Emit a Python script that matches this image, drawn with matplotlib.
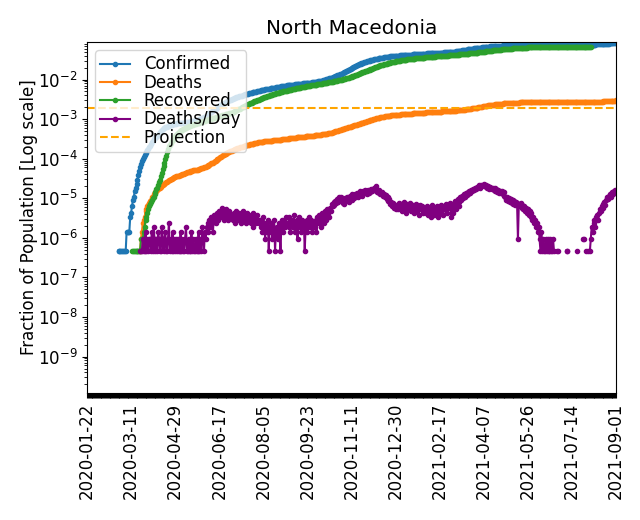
import numpy as np
import pandas as pd
import matplotlib
matplotlib.use("Agg")
import matplotlib.pyplot as plt

plt.rcParams['font.size'] = 12

country = "North Macedonia"
population = 2083380
first_day = '2020-01-22'
last_day = '2021-09-01'
projection = 1.9e-3

# daily new confirmed cases, starting 2020-02-26
confirmed_start = '2020-02-26'
confirmed_new = [
    1, 0, 0, 0,
    0, 0, 0, 0, 0, 2, 0, 0, 0, 4, 2, 4, 6, 4, 8, 7, 10, 14, 18, 20, 26, 28, 26, 30, 24, 26, 30, 25, 28, 27, 32,
    38, 45, 50, 55, 62, 40, 35, 30, 42, 48, 55, 80, 52, 48, 100, 38, 50, 35, 20, 10, 65, 28, 40, 20, 15, 22, 20, 25, 28, 12,
    8, 12, 9, 15, 6, 10, 14, 8, 11, 12, 20, 10, 16, 9, 13, 18, 12, 14, 20, 25, 30, 22, 35, 40, 28, 45, 38, 52, 60, 48, 55,
    70, 80, 95, 110, 125, 90, 105, 120, 135, 150, 125, 160, 140, 175, 150, 165, 180, 190, 135, 155, 170, 160, 150, 165, 130, 155, 145, 160, 125, 140,
    150, 130, 160, 140, 125, 155, 170, 145, 160, 130, 120, 150, 135, 140, 165, 125, 130, 145, 120, 135, 140, 125, 130, 150, 115, 120, 135, 110, 125, 140, 130,
    130, 140, 120, 135, 125, 150, 140, 110, 120, 135, 145, 130, 125, 140, 115, 120, 135, 130, 125, 140, 150, 120, 110, 135, 125, 130, 140, 115, 120, 135, 125,
    95, 110, 100, 85, 120, 105, 90, 110, 100, 95, 115, 105, 80, 90, 100, 110, 95, 105, 120, 90, 85, 100, 110, 95, 105, 115, 120, 100, 110, 125,
    140, 160, 150, 180, 200, 220, 240, 210, 260, 280, 250, 300, 320, 290, 350, 380, 360, 400, 420, 390, 450, 480, 500, 520, 490, 550, 580, 600, 620, 650, 680,
    700, 750, 820, 880, 950, 1000, 1050, 1100, 1080, 1150, 1200, 1180, 1250, 1220, 1300, 1150, 1280, 1260, 1200, 1240, 1150, 1100, 1180, 1120, 1050, 1100, 1000, 1050, 980, 950,
    900, 950, 880, 920, 850, 800, 870, 830, 780, 820, 760, 740, 700, 720, 680, 650, 700, 620, 600, 640, 580, 560, 600, 540, 500, 520, 480, 450, 500, 460, 480,
    420, 380, 400, 360, 390, 350, 370, 340, 380, 330, 360, 320, 350, 340, 310, 330, 360, 320, 300, 340, 310, 330, 350, 320, 300, 340, 360, 330, 350, 380, 360,
    280, 300, 260, 320, 290, 270, 310, 280, 300, 330, 290, 310, 320, 300, 280, 330, 350, 320, 340, 310, 360, 330, 350, 370, 340, 380, 360, 390,
    450, 500, 550, 600, 650, 700, 680, 750, 800, 850, 900, 880, 950, 1000, 980, 1050, 1100, 1080, 1150, 1100, 1050, 1120, 1000, 1080, 1050, 980, 1020, 950, 900, 980, 920,
    950, 900, 880, 850, 920, 880, 820, 800, 850, 780, 750, 800, 760, 720, 700, 740, 680, 650, 700, 620, 600, 650, 580, 560, 600, 540, 520, 480, 500, 450,
    300, 250, 280, 220, 200, 240, 180, 160, 190, 150, 140, 170, 130, 120, 110, 100, 90, 110, 80, 70, 90, 60, 50, 70, 55, 45, 60, 40, 35, 45, 30,
    25, 20, 18, 22, 15, 12, 16, 14, 10, 13, 12, 9, 11, 8, 10, 7, 12, 9, 6, 10, 8, 11, 7, 9, 12, 8, 10, 14, 11, 9,
    10, 12, 15, 11, 14, 18, 16, 20, 22, 25, 20, 28, 30, 35, 32, 40, 38, 45, 50, 42, 55, 60, 58, 65, 70, 62, 75, 80, 85, 90, 95,
    120, 150, 180, 200, 250, 280, 300, 320, 380, 400, 450, 480, 500, 550, 600, 620, 650, 700, 720, 750, 780, 800, 820, 850, 880, 900, 920, 950, 980, 1000, 1020,
    1050,
]

# daily deaths, starting 2020-03-21
deaths_start = '2020-03-21'
deaths_new = [
    1, 1, 1, 2, 1, 1, 3, 1, 2, 1, 2,
    2, 1, 3, 1, 4, 2, 1, 2, 1, 3, 2, 1, 1, 4, 2, 1, 2, 3, 1, 1, 2, 5, 1, 2, 1, 3, 1, 2, 1, 2,
    1, 2, 1, 1, 3, 1, 2, 1, 1, 2, 4, 1, 1, 2, 1, 1, 3, 1, 2, 1, 1, 2, 1, 1, 3, 1, 2, 1, 4, 2, 1,
    3, 2, 4, 5, 3, 6, 4, 7, 5, 3, 8, 6, 5, 9, 7, 6, 10, 8, 7, 12, 9, 6, 8, 11, 7, 9, 6, 10, 8, 7,
    8, 6, 9, 7, 5, 10, 7, 6, 9, 8, 5, 7, 10, 6, 8, 7, 5, 9, 6, 8, 7, 5, 6, 9, 4, 7, 6, 5, 8, 6, 5,
    6, 4, 5, 3, 7, 4, 2, 5, 3, 6, 1, 4, 3, 5, 2, 4, 6, 1, 3, 4, 2, 5, 3, 1, 4, 6, 3, 5, 4, 7, 5,
    5, 4, 7, 3, 6, 5, 4, 8, 3, 5, 6, 2, 4, 7, 5, 3, 6, 4, 5, 1, 4, 6, 3, 5, 7, 4, 6, 3, 5, 4,
    4, 6, 3, 7, 5, 8, 6, 4, 9, 7, 5, 10, 8, 6, 11, 9, 7, 12, 10, 15, 13, 17, 14, 18, 16, 20, 17, 22, 19, 23, 21,
    16, 19, 15, 21, 18, 22, 20, 17, 24, 22, 19, 26, 23, 21, 27, 24, 29, 23, 27, 31, 26, 29, 24, 31, 28, 34, 30, 26, 33, 29,
    33, 30, 35, 31, 34, 37, 33, 42, 30, 32, 28, 33, 26, 29, 30, 24, 26, 22, 25, 20, 22, 18, 20, 15, 17, 13, 16, 12, 14, 11, 13,
    14, 11, 16, 12, 15, 10, 13, 17, 12, 14, 9, 15, 11, 13, 16, 10, 12, 14, 9, 13, 11, 15, 10, 12, 8, 14, 11, 13, 9, 12, 10,
    11, 9, 13, 8, 12, 10, 7, 14, 9, 11, 8, 12, 10, 13, 7, 11, 9, 14, 10, 12, 8, 13, 11, 15, 9, 12, 14, 16,
    12, 7, 15, 9, 14, 18, 11, 16, 20, 13, 17, 22, 19, 24, 21, 26, 23, 28, 25, 30, 27, 32, 29, 34, 31, 36, 33, 38, 35, 40, 37,
    41, 44, 39, 46, 42, 45, 47, 43, 40, 44, 38, 42, 36, 41, 39, 35, 38, 33, 37, 31, 35, 30, 34, 28, 32, 29, 31, 26, 30, 24,
    22, 19, 23, 18, 21, 17, 20, 16, 19, 15, 18, 14, 17, 16, 2, 15, 13, 16, 12, 14, 11, 13, 10, 12, 9, 11, 8, 10, 7, 9, 6,
    7, 5, 6, 4, 5, 3, 4, 2, 1, 3, 1, 2, 1, 1, 2, 1, 2, 1, 1, 2, 1, 1, 2, 1, 0, 0, 1, 1, 0, 0,
    0, 0, 0, 0, 0, 0, 0, 1, 1, 0, 0, 0, 0, 0, 0, 0, 0, 0, 0, 1, 0, 0, 0, 0, 0, 2, 2, 0, 0, 1, 0,
    1, 0, 1, 2, 4, 3, 5, 6, 4, 7, 8, 6, 9, 11, 10, 13, 12, 15, 17, 14, 19, 22, 20, 24, 26, 23, 28, 30, 27, 31, 33,
    32,
]

# daily recoveries, starting 2020-03-12 (reporting stops 2021-08-04)
recovered_start = '2020-03-12'
recovered_new = [
    1, 0, 0, 0, 0, 0, 0, 0, 0, 0, 1, 0, 0, 1, 1, 2, 1, 2, 2, 2,
    2, 2, 2, 2, 2, 3, 4, 5, 4, 6, 8, 9, 12, 18, 20, 25, 28, 40, 45, 55, 60, 60, 50, 55, 50, 50, 60, 55, 50, 55,
    45, 40, 50, 35, 30, 40, 45, 38, 30, 25, 35, 40, 30, 28, 32, 25, 30, 35, 28, 22, 30, 25, 35, 30, 28, 25, 30, 35, 40, 30, 38,
    30, 25, 35, 28, 32, 40, 30, 35, 38, 30, 42, 35, 40, 45, 38, 30, 35, 40, 42, 38, 45, 40, 35, 42, 38, 45, 40, 35, 40, 42,
    60, 70, 80, 75, 90, 85, 100, 95, 110, 105, 120, 115, 100, 110, 125, 120, 130, 115, 125, 140, 120, 130, 135, 125, 140, 130, 145, 120, 135, 140, 130,
    140, 150, 135, 145, 160, 130, 140, 155, 150, 145, 140, 135, 150, 160, 145, 130, 140, 155, 150, 135, 140, 145, 130, 150, 140, 135, 145, 150, 140, 130, 145,
    150, 140, 145, 135, 130, 150, 140, 145, 135, 140, 150, 130, 140, 145, 135, 140, 150, 135, 140, 130, 145, 140, 135, 150, 140, 130, 145, 140, 135, 150,
    130, 140, 150, 135, 145, 160, 150, 140, 155, 165, 150, 160, 170, 155, 175, 165, 180, 170, 185, 175, 190, 180, 200, 195, 210, 205, 220, 215, 230, 240, 250,
    260, 280, 300, 320, 340, 360, 380, 400, 420, 440, 460, 480, 500, 520, 540, 560, 580, 600, 620, 640, 600, 620, 640, 660, 680, 700, 720, 680, 700, 720,
    750, 780, 800, 820, 850, 830, 870, 860, 880, 900, 850, 870, 820, 840, 800, 810, 780, 790, 760, 770, 740, 750, 720, 730, 700, 710, 680, 690, 660, 670, 650,
    600, 580, 560, 540, 520, 510, 500, 490, 480, 470, 500, 480, 470, 460, 450, 470, 460, 440, 450, 430, 440, 420, 430, 410, 420, 400, 410, 390, 400, 380, 390,
    380, 370, 360, 350, 370, 340, 360, 350, 340, 360, 350, 330, 340, 350, 360, 340, 330, 350, 360, 370, 350, 360, 380, 370, 390, 380, 400, 390,
    380, 400, 390, 420, 410, 430, 420, 450, 440, 460, 450, 470, 460, 480, 470, 490, 480, 500, 490, 510, 500, 520, 510, 530, 520, 540, 530, 550, 540, 560, 550,
    600, 650, 700, 720, 750, 780, 800, 820, 850, 830, 860, 840, 820, 800, 780, 760, 740, 720, 700, 720, 680, 700, 660, 680, 640, 660, 620, 640, 600, 620,
    600, 620, 580, 600, 560, 580, 540, 560, 520, 540, 500, 520, 480, 500, 460, 480, 440, 460, 420, 440, 400, 420, 380, 400, 360, 380, 340, 360, 320, 340, 300,
    280, 260, 250, 230, 220, 200, 190, 180, 160, 150, 140, 130, 120, 110, 100, 90, 80, 75, 70, 60, 55, 50, 45, 40, 35, 30, 28, 25, 22, 20,
    18, 15, 20, 12, 15, 18, 10, 14, 16, 12, 15, 10, 12, 14, 18, 15, 20, 16, 22, 18, 25, 20, 24, 22, 28, 25, 30, 28, 32, 30, 35,
    40, 45, 50, 55,
]

dates = pd.date_range(first_day, last_day)
day0 = dates[0]


def place(start, values):
    x = (pd.Timestamp(start) - day0).days + np.arange(len(values))
    return x, np.array(values, dtype=float)


xc, conf_daily = place(confirmed_start, confirmed_new)
xd, death_daily = place(deaths_start, deaths_new)
xr, rec_daily = place(recovered_start, recovered_new)

confirmed = np.cumsum(conf_daily) / population
deaths = np.cumsum(death_daily) / population
recovered = np.cumsum(rec_daily) / population
deaths_per_day = np.where(death_daily > 0, death_daily, np.nan) / population

fig, ax = plt.subplots(figsize=(6.4, 5.2), dpi=100)
fig.subplots_adjust(left=0.136, right=0.9625, top=0.919, bottom=0.244)

ax.plot(xc, confirmed, marker='.', label='Confirmed')
ax.plot(xd, deaths, marker='.', label='Deaths')
ax.plot(xr, recovered, marker='.', label='Recovered')
ax.plot(xd, deaths_per_day, marker='.', color='purple', label='Deaths/Day')
ax.axhline(projection, color='orange', linestyle='--', label='Projection')

ax.set_yscale('log')
ax.set_ylim(1.2e-10, 0.088)
ax.set_xlim(0, len(dates) - 1)

labels = [d.strftime('%Y-%m-%d') if i % 49 == 0 else '' for i, d in enumerate(dates)]
ax.set_xticks(np.arange(len(dates)))
ax.set_xticklabels(labels, rotation=90)

ax.set_title(country, fontsize=14.4)
ax.set_ylabel('Fraction of Population [Log scale]', labelpad=0)
ax.legend(loc='upper left', labelspacing=0.02, borderpad=0.3, handlelength=1.8)

fig.savefig('out.png', dpi=100)
